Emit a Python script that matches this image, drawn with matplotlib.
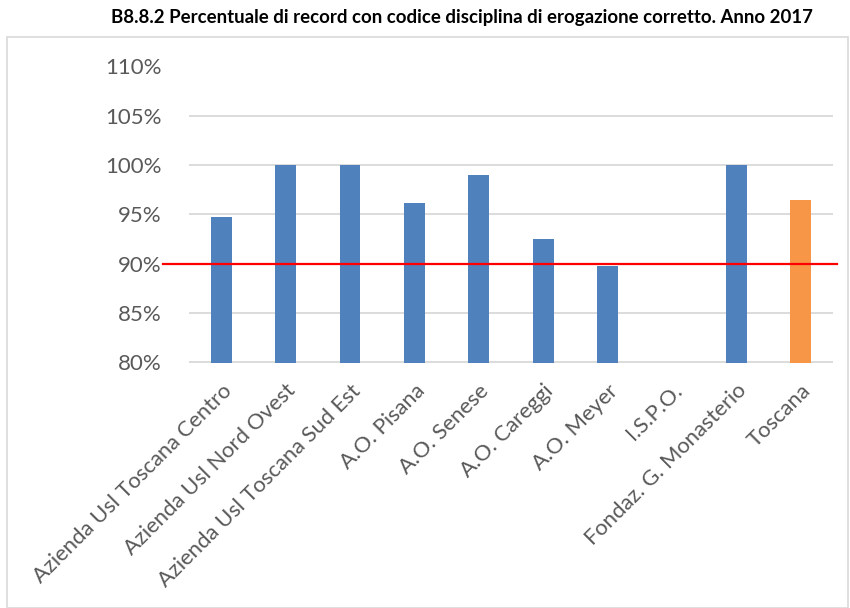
import numpy as np
import matplotlib.pyplot as plt
from matplotlib.patches import Rectangle

# aziende e valori (% record con codice disciplina corretto)
aziende = ['Azienda Usl Toscana Centro', 'Azienda Usl Nord Ovest', 'Azienda Usl Toscana Sud Est',
           'A.O. Pisana', 'A.O. Senese', 'A.O. Careggi', 'A.O. Meyer', 'I.S.P.O.',
           'Fondaz. G. Monasterio', 'Toscana']
valori = [94.7, 100.0, 100.0, 96.2, 99.0, 92.5, 89.8, np.nan, 100.0, 96.5]
colori = ['#4F81BD'] * 9 + ['#F79646']
soglia = 90
yticks = [80, 85, 90, 95, 100, 105, 110]

plt.rcParams['font.family'] = ['Lato', 'DejaVu Sans']

fig = plt.figure(figsize=(8.5, 6.08), dpi=100)
ax = fig.add_axes([189/850, 1-362.5/608, (833-189)/850, (362.5-66.5)/608])

x = np.arange(len(aziende))
ax.bar(x, valori, width=0.32, color=colori, zorder=3)
ax.set_ylim(80, 110)
ax.set_xlim(-0.5, len(aziende)-0.5)
ax.set_yticks(yticks)
ax.set_yticklabels([f'{v}%' for v in yticks], color='#595959', fontsize=16)
ax.set_xticks(x)
ax.set_xticklabels(aziende, rotation=45, ha='right', rotation_mode='anchor',
                   color='#595959', fontsize=15.8)
ax.tick_params(axis='both', length=0)
ax.tick_params(axis='y', pad=20)
ax.tick_params(axis='x', pad=13)
ax.grid(axis='y', color='#d9d9d9', linewidth=1.3, zorder=0)
for s in ax.spines.values():
    s.set_visible(False)

# linea obiettivo 90%
ax.axhline(soglia, xmin=-0.04, xmax=1.006, color='#FF0000', linewidth=1.6,
           clip_on=False, zorder=4)

# bordo grafico
fig.patches.append(Rectangle((7/850, 0.0), (848-7)/850, 1-37/608, transform=fig.transFigure,
                             fill=False, edgecolor='#d9d9d9', linewidth=1.2))

fig.text(462/850, 1-18/608, 'B8.8.2 Percentuale di record con codice disciplina di erogazione corretto. Anno 2017',
         ha='center', va='center', fontsize=13.4, fontweight='bold', color='black')

fig.savefig('out.png', dpi=100)
